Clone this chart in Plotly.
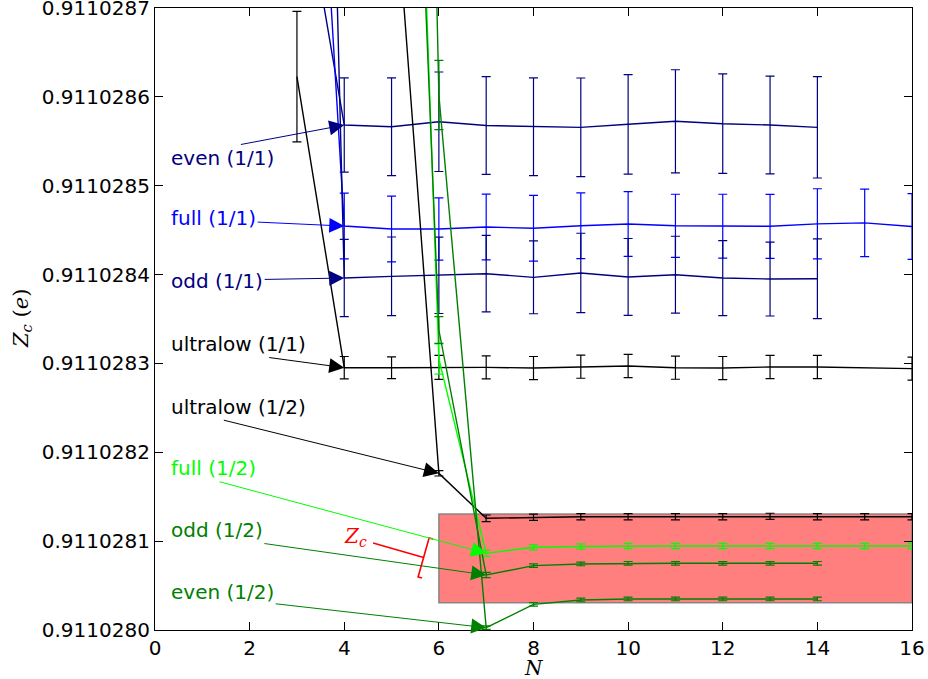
import plotly.graph_objects as go

# ---------------- data ----------------
N_even11 = [3, 4, 5, 6, 7, 8, 9, 10, 11, 12, 13, 14]
Z_even11 = [0.9110288800, 0.9110285683, 0.9110285664, 0.9110285720, 0.9110285677, 0.9110285664,
            0.9110285657, 0.9110285691, 0.9110285725, 0.9110285698, 0.9110285683, 0.9110285657]
E_even11 = [1.0e-7, 0.53e-7, 0.55e-7, 0.56e-7, 0.55e-7, 0.55e-7, 0.555e-7, 0.56e-7, 0.58e-7,
            0.56e-7, 0.55e-7, 0.57e-7]

N_full11 = [3, 4, 5, 6, 7, 8, 9, 10, 11, 12, 13, 14, 15, 16]
Z_full11 = [0.9110293500, 0.9110284546, 0.9110284513, 0.9110284513, 0.9110284535, 0.9110284521,
            0.9110284549, 0.9110284569, 0.9110284549, 0.9110284544, 0.9110284543, 0.9110284571,
            0.9110284582, 0.9110284541]
E_full11 = [1.0e-7, 0.37e-7, 0.37e-7, 0.35e-7, 0.37e-7, 0.37e-7, 0.37e-7, 0.365e-7, 0.355e-7,
            0.36e-7, 0.36e-7, 0.395e-7, 0.38e-7, 0.37e-7]

N_odd11 = [3, 4, 5, 6, 7, 8, 9, 10, 11, 12, 13, 14]
Z_odd11 = [0.9110305000, 0.9110283961, 0.9110283980, 0.9110283992, 0.9110284010, 0.9110283969,
           0.9110284018, 0.9110283973, 0.9110283998, 0.9110283961, 0.9110283950, 0.9110283953]
E_odd11 = [1.0e-7, 0.435e-7, 0.443e-7, 0.43e-7, 0.43e-7, 0.41e-7, 0.447e-7, 0.433e-7, 0.433e-7,
           0.422e-7, 0.416e-7, 0.448e-7]

N_ultra11 = [3, 4, 5, 6, 7, 8, 9, 10, 11, 12, 13, 14, 16]
Z_ultra11 = [0.9110286227, 0.9110282952, 0.9110282952, 0.9110282956, 0.9110282956, 0.9110282948,
             0.9110282963, 0.9110282971, 0.9110282952, 0.9110282948, 0.9110282960, 0.9110282960,
             0.9110282941]
E_ultra11 = [0.734e-7, 0.126e-7, 0.122e-7, 0.135e-7, 0.13e-7, 0.13e-7, 0.13e-7, 0.13e-7, 0.13e-7,
             0.13e-7, 0.13e-7, 0.13e-7, 0.13e-7]

N_ultra12 = [5, 6, 7, 8, 9, 10, 11, 12, 13, 14, 15, 16]
Z_ultra12 = [0.9110288880, 0.9110281763, 0.9110281257, 0.9110281268, 0.9110281275, 0.9110281275,
             0.9110281275, 0.9110281275, 0.9110281279, 0.9110281275, 0.9110281275, 0.9110281275]
E_ultra12 = [0.3e-7, 0.03e-7, 0.037e-7, 0.035e-7, 0.035e-7, 0.035e-7, 0.035e-7, 0.035e-7,
             0.035e-7, 0.035e-7, 0.035e-7, 0.035e-7]

N_full12 = [5, 6, 7, 8, 9, 10, 11, 12, 13, 14, 15, 16]
Z_full12 = [0.9110298400, 0.9110283050, 0.9110280863, 0.9110280931, 0.9110280940, 0.9110280945,
            0.9110280945, 0.9110280945, 0.9110280945, 0.9110280945, 0.9110280945, 0.9110280945]
E_full12 = [0.5e-7, 0.17e-7, 0.035e-7, 0.03e-7, 0.03e-7, 0.03e-7, 0.03e-7, 0.03e-7, 0.03e-7,
            0.03e-7, 0.03e-7, 0.03e-7]

N_odd12 = [5, 6, 7, 8, 9, 10, 11, 12, 13, 14]
Z_odd12 = [0.9110296500, 0.9110283376, 0.9110280619, 0.9110280724, 0.9110280743, 0.9110280751,
           0.9110280751, 0.9110280751, 0.9110280751, 0.9110280751]
E_odd12 = [0.5e-7, 0.15e-7, 0.03e-7, 0.02e-7, 0.02e-7, 0.02e-7, 0.02e-7, 0.02e-7, 0.02e-7, 0.02e-7]

N_even12 = [5, 6, 7, 8, 9, 10, 11, 12, 13, 14]
Z_even12 = [0.9110310000, 0.9110286021, 0.9110280026, 0.9110280289, 0.9110280338, 0.9110280349,
            0.9110280349, 0.9110280349, 0.9110280349, 0.9110280349]
E_even12 = [0.5e-7, 0.39e-7, 0.02e-7, 0.02e-7, 0.02e-7, 0.02e-7, 0.02e-7, 0.02e-7, 0.02e-7, 0.02e-7]

# Z_c band
band_N = [6, 16]
band_Z = [0.9110280307, 0.9110281305]

x_ticks = [0, 2, 4, 6, 8, 10, 12, 14, 16]
y_ticks = [0.9110280, 0.9110281, 0.9110282, 0.9110283, 0.9110284, 0.9110285, 0.9110286, 0.9110287]
y_ticktext = ["0.9110280", "0.9110281", "0.9110282", "0.9110283", "0.9110284", "0.9110285",
              "0.9110286", "0.9110287"]

# label text positions (left edge x, centre y) and which point each arrow targets
label_x = 0.30
labels = [
    ("even (1/1)", 0.9110285312, N_even11, Z_even11, 1, "#000080"),
    ("full (1/1)", 0.9110284636, N_full11, Z_full11, 1, "#0000ff"),
    ("odd (1/1)", 0.9110283927, N_odd11, Z_odd11, 1, "#000080"),
    ("ultralow (1/1)", 0.9110283218, N_ultra11, Z_ultra11, 1, "#000000"),
    ("ultralow (1/2)", 0.9110282513, N_ultra12, Z_ultra12, 1, "#000000"),
    ("full (1/2)", 0.9110281820, N_full12, Z_full12, 2, "#00ff00"),
    ("odd (1/2)", 0.9110281125, N_odd12, Z_odd12, 2, "#008000"),
    ("even (1/2)", 0.9110280431, N_even12, Z_even12, 2, "#008000"),
]

# bracket anchor (data) for the Z_c marker
zc_anchor = (5.677, 0.9110280816)

FONT = "DejaVu Sans"

fig = go.Figure()

series = [
    (N_even11, Z_even11, E_even11, "#000080"),
    (N_full11, Z_full11, E_full11, "#0000ff"),
    (N_odd11, Z_odd11, E_odd11, "#000080"),
    (N_ultra11, Z_ultra11, E_ultra11, "#000000"),
    (N_ultra12, Z_ultra12, E_ultra12, "#000000"),
    (N_full12, Z_full12, E_full12, "#00ff00"),
    (N_odd12, Z_odd12, E_odd12, "#008000"),
    (N_even12, Z_even12, E_even12, "#008000"),
]
for xs, ys, es, c in series:
    fig.add_trace(go.Scatter(
        x=xs, y=ys, mode="lines",
        line=dict(color=c, width=1.4),
        error_y=dict(type="data", array=es, visible=True, color=c, thickness=1.2, width=4.5),
        showlegend=False, hoverinfo="skip",
    ))

shapes = [
    dict(type="rect", xref="x", yref="y", x0=band_N[0], x1=band_N[1], y0=band_Z[0], y1=band_Z[1],
         fillcolor="rgba(255,0,0,0.5)", line=dict(color="rgba(128,128,128,0.9)", width=1.5),
         layer="below"),
    # Z_c shaft
    dict(type="path", xref="x", yref="y", xsizemode="pixel", ysizemode="pixel",
         xanchor=zc_anchor[0], yanchor=zc_anchor[1],
         path="M -50.5,14.5 L 0,0", line=dict(color="red", width=1.6)),
    # Z_c bracket
    dict(type="path", xref="x", yref="y", xsizemode="pixel", ysizemode="pixel",
         xanchor=zc_anchor[0], yanchor=zc_anchor[1],
         path="M 9.4,18.4 L 5.5,19.5 L -5.5,-19.5 L -1.6,-20.6", line=dict(color="red", width=1.6)),
]

annotations = []
for text, ly, xs, ys, idx, c in labels:
    annotations.append(dict(
        x=xs[idx], y=ys[idx], xref="x", yref="y",
        ax=label_x, ay=ly, axref="x", ayref="y",
        text=text, showarrow=True, arrowhead=2, arrowsize=3, arrowwidth=1,
        arrowcolor=c, xanchor="left", yanchor="middle",
        font=dict(family=FONT, size=20, color=c),
    ))

annotations.append(dict(
    x=zc_anchor[0], y=zc_anchor[1], xref="x", yref="y", showarrow=False,
    xshift=-68.5, yshift=20.5, xanchor="center", yanchor="middle",
    text="<i>Z</i><sub><i>c</i></sub>",
    font=dict(family="DejaVu Serif", size=20, color="red"),
))
# axis titles
annotations.append(dict(
    x=0, y=0.5, xref="paper", yref="paper", showarrow=False, xshift=-133, textangle=-90,
    xanchor="center", yanchor="middle",
    text="<i>Z</i><sub><i>c</i></sub> (<i>e</i>)",
    font=dict(family="DejaVu Serif", size=21, color="black"),
))
annotations.append(dict(
    x=0.5, y=0, xref="paper", yref="paper", showarrow=False, yshift=-38,
    xanchor="center", yanchor="middle",
    text="<i>N</i>",
    font=dict(family="DejaVu Serif", size=20, color="black"),
))

axis_common = dict(showline=True, linecolor="black", linewidth=1.2, mirror="ticks",
                   ticks="inside", ticklen=8, tickwidth=1, tickcolor="black",
                   showgrid=False, zeroline=False, ticklabeloverflow="allow", automargin=False,
                   tickfont=dict(family=FONT, size=20, color="black"))

fig.update_layout(
    width=928, height=679,
    margin=dict(l=155, r=16, t=8, b=49, autoexpand=False),
    paper_bgcolor="white", plot_bgcolor="white",
    xaxis=dict(range=[0, 16], tickvals=x_ticks, **axis_common),
    yaxis=dict(range=[y_ticks[0], y_ticks[-1] + 1e-12], tickvals=y_ticks, ticktext=y_ticktext,
               **axis_common),
    shapes=shapes, annotations=annotations,
)

fig.write_html("out.html")
